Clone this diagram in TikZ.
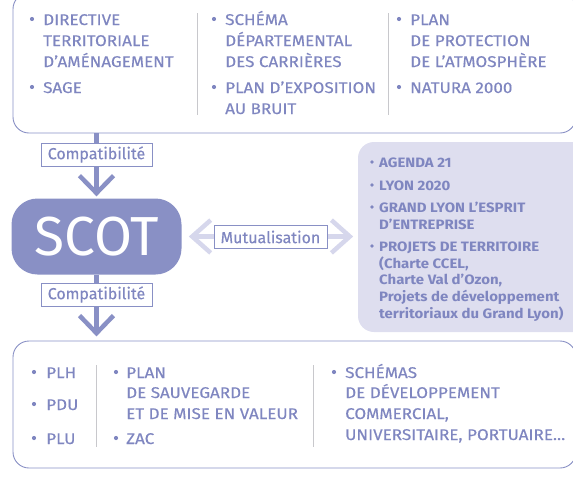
\documentclass[tikz,border=0pt]{standalone}
\usepackage{fontspec}
\setmainfont{Fira Sans}
\newfontfamily\txtfont{Fira Sans}[FakeStretch=1.1,FakeBold=0.4]
\newfontfamily\btxtfont{Fira Sans}[FakeStretch=1.1]
\newfontfamily\lblfont{Fira Sans}[FakeBold=0.3]
\usetikzlibrary{calc}
\definecolor{mc}{HTML}{8990C5}
\definecolor{tc}{HTML}{7F86C0}
\definecolor{lc}{HTML}{D6D7EC}
\definecolor{fc}{HTML}{DEDEEF}
\definecolor{sc}{HTML}{C8C8CC}
\tikzset{
  outbox/.style={draw=mc, line width=0.9pt, rounded corners=16pt, inner sep=0pt},
  rbox/.style={fill=fc, rounded corners=16pt, inner sep=0pt},
  scotbox/.style={fill=mc, rounded corners=26pt, text=white, font=\fontsize{55}{55}\selectfont, inner sep=0pt},
  txt/.style={anchor=base west, text=tc, font=\fontsize{15.5}{18}\txtfont, inner sep=0pt},
  btxt/.style={anchor=base west, text=tc, font=\fontsize{13.6}{16}\btxtfont\bfseries, inner sep=0pt},
  lbl/.style={draw=mc, line width=0.9pt, fill=white, text=tc, font=\fontsize{16}{18}\lblfont, minimum height=23pt, minimum width=111pt, inner sep=0pt},
  conn/.style={draw=mc, line width=4.5pt},
  chev/.style={draw=mc, line width=4.5pt, miter limit=10},
  lconn/.style={draw=lc, line width=4.5pt},
  lchev/.style={draw=lc, line width=4.5pt, miter limit=10},
  seprule/.style={draw=sc, line width=0.8pt},
  bul/.style={fill=tc},
}
\begin{document}
\begin{tikzpicture}[x=1pt,y=-1pt]
\useasboundingbox (0,0) rectangle (573,477);
\clip (0,0) rectangle (573,477);

% boxes
\node[outbox, minimum width=563pt, minimum height=140pt] (top) at (294.5,63) {};
\node[outbox, minimum width=563pt, minimum height=127pt] (bot) at (294.5,404.5) {};
\node[rbox, minimum width=250pt, minimum height=190pt] (right) at (483,237) {};
\node[scotbox, minimum width=170pt, minimum height=76pt] (scot) at (96.5,236.5) {\raisebox{-2pt}{SCOT}};

% connectors
\draw[conn] (top.south -| scot.north) -- ($(scot.north)+(0,-5.2)$);
\draw[chev] ($(scot.north)+(-17,-22.6)$) -- ($(scot.north)+(0,-5.2)$) -- ($(scot.north)+(17,-22.6)$);
\draw[conn] (scot.south) -- ($(scot.south |- bot.north)+(0,-7.4)$);
\draw[chev] ($(scot.south |- bot.north)+(-17,-25)$) -- ($(scot.south |- bot.north)+(0,-7.4)$) -- ($(scot.south |- bot.north)+(17,-25)$);
\draw[lconn, shorten <=10.5pt, shorten >=8pt] (scot.east) -- (scot.east -| right.west);
\draw[lchev] ($(scot.east)+(29,-16.4)$) -- ($(scot.east)+(10.5,0)$) -- ($(scot.east)+(29,16.4)$);
\draw[lchev] ($(scot.east -| right.west)+(-26.4,-16.4)$) -- ($(scot.east -| right.west)+(-8,0)$) -- ($(scot.east -| right.west)+(-26.4,16.4)$);

% labels
\node[lbl] (c1) at (96.5,154.5) {Compatibilité};
\node[lbl] (c2) at (96.5,294.5) {Compatibilité};
\node[lbl, minimum width=113pt] (mu) at (270.5,237) {Mutualisation};

% separators
\draw[seprule] (197,13) -- (197,115);
\draw[seprule] (388,13) -- (388,115);
\draw[seprule] (96,365) -- (96,447);
\draw[seprule] (313,365) -- (313,447);

% top box text
\node[txt] (a1) at (43,25) {DIRECTIVE};
\node[txt] (a2) at (43,46) {TERRITORIALE};
\node[txt] (a3) at (43,67) {D’AMÉNAGEMENT};
\node[txt] (a4) at (43,93) {SAGE};
\node[txt] (b1) at (225,25) {SCHÉMA};
\node[txt] (b2) at (225,46) {DÉPARTEMENTAL};
\node[txt] (b3) at (225,67) {DES CARRIÈRES};
\node[txt] (b4) at (225,93) {PLAN D’EXPOSITION};
\node[txt] (b5) at (225,114) {AU BRUIT};
\node[txt] (d1) at (410,25) {PLAN};
\node[txt] (d2) at (410,46) {DE PROTECTION};
\node[txt] (d3) at (410,67) {DE L’ATMOSPHÈRE};
\node[txt] (d4) at (410,93) {NATURA 2000};
\foreach \x/\y in {32/19, 32/87, 214/19, 214/87, 399/19, 399/87}
  \fill[bul] (\x,\y) circle (2.1pt);

% bottom box text
\node[txt] (e1) at (46,378) {PLH};
\node[txt] (e2) at (46,410) {PDU};
\node[txt] (e3) at (46,444) {PLU};
\node[txt] (f1) at (126,378) {PLAN};
\node[txt] (f2) at (126,398) {DE SAUVEGARDE};
\node[txt] (f3) at (126,419) {ET DE MISE EN VALEUR};
\node[txt] (f4) at (126,444) {ZAC};
\node[txt] (g1) at (345,378) {SCHÉMAS};
\node[txt] (g2) at (345,398) {DE DÉVELOPPEMENT};
\node[txt] (g3) at (345,419) {COMMERCIAL,};
\node[txt] (g4) at (345,440) {UNIVERSITAIRE, PORTUAIRE...};
\foreach \x/\y in {34/372, 34/404, 34/438, 116/372, 116/438, 334/372}
  \fill[bul] (\x,\y) circle (2.1pt);

% right box text
\node[btxt] (h1) at (379,167) {AGENDA 21};
\node[btxt] (h2) at (379,190) {LYON 2020};
\node[btxt] (h3) at (379,212) {GRAND LYON L’ESPRIT};
\node[btxt] (h4) at (379,229) {D’ENTREPRISE};
\node[btxt] (h5) at (379,251) {PROJETS DE TERRITOIRE};
\node[btxt] (h6) at (379,268) {(Charte CCEL,};
\node[btxt] (h7) at (379,284) {Charte Val d’Ozon,};
\node[btxt] (h8) at (379,301) {Projets de développement};
\node[btxt] (h9) at (379,318) {territoriaux du Grand Lyon)};
\foreach \y in {162,185,207,246}
  \fill[bul] (372,\y) circle (1.9pt);
\end{tikzpicture}
\end{document}
